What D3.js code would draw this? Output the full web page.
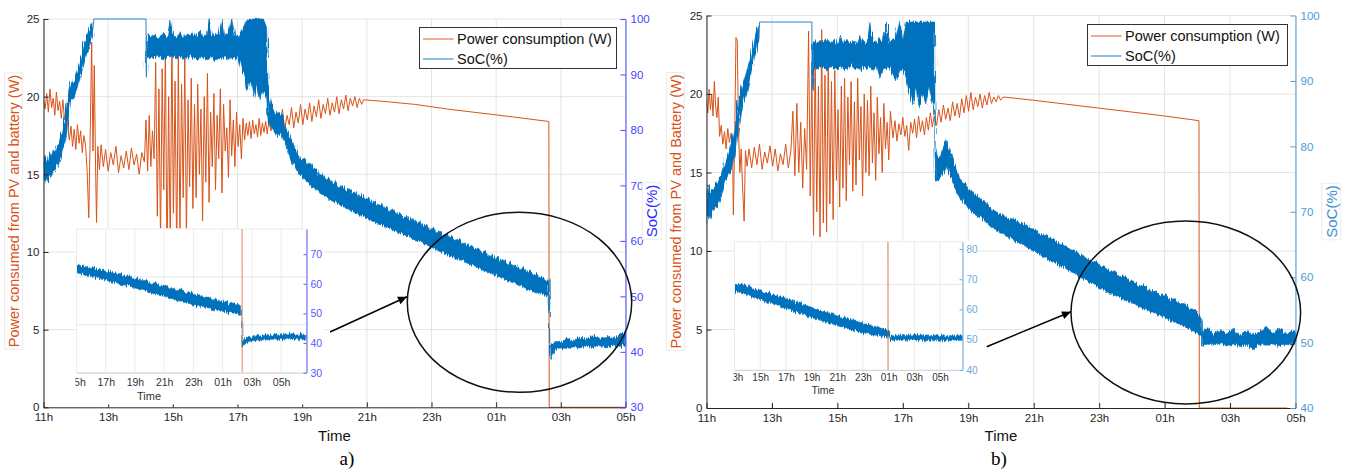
<!DOCTYPE html>
<html>
<head>
<meta charset="utf-8">
<script src="https://cdn.jsdelivr.net/npm/d3@7"></script>
<style>
    body { margin: 0; background: #fff; }
    svg  { font-family: "Liberation Sans", Arial, sans-serif; display: block; }
</style>
</head>
<body>
<svg id="fig" width="1349" height="470"></svg>
<script>

// ---- values (time = hours after 11h) ----

var timeTicks  = [0, 2, 4, 6, 8, 10, 12, 14, 16, 18];
var timeLabels = ["11h", "13h", "15h", "17h", "19h", "21h", "23h", "01h", "03h", "05h"];
var powerTicks = [0, 5, 10, 15, 20, 25];
var socTicksA  = [30, 40, 50, 60, 70, 80, 90, 100];
var socTicksB  = [40, 50, 60, 70, 80, 90, 100];
var insetSocTicksA = [30, 40, 50, 60, 70];
var insetSocTicksB = [40, 50, 60, 70, 80];
var insetGridA = [5, 10];
var insetGridB = [10];
var legendLabels = ["Power consumption (W)", "SoC(%)"];
var leftLabelA = "Power consumed from PV and battery (W)";
var leftLabelB = "Power consumed from PV and Battery (W)";
var rightLabel = "SoC(%)";

// [t, W]
var powerA = [
    [0.00,19.8],[0.05,19.2],[0.10,20.2],[0.15,19.0],[0.20,20.5],[0.25,19.3],[0.30,19.9],[0.35,18.8],
    [0.40,20.3],[0.45,19.1],[0.50,19.7],[0.55,18.6],[0.60,19.8],[0.65,18.5],[0.70,19.2],[0.75,18.0],
    [0.80,17.2],[0.85,18.1],[0.90,16.8],[0.95,17.9],[1.00,16.6],[1.05,18.2],[1.10,17.0],[1.15,17.8],
    [1.20,16.4],[1.25,17.5],[1.30,16.9],[1.35,15.2],[1.40,12.2],[1.44,17.0],[1.49,23.5],[1.53,16.5],
    [1.57,22.0],[1.61,15.5],[1.64,11.9],[1.68,16.8],[1.73,15.3],[1.78,16.9],[1.85,15.5],[1.92,16.6],
    [2.00,15.2],[2.08,16.4],[2.16,15.6],[2.24,16.8],[2.32,15.1],[2.40,16.2],[2.48,15.4],[2.56,16.5],
    [2.64,15.3],[2.72,16.7],[2.80,15.6],[2.88,16.3],[2.96,15.0],[3.04,16.4],[3.12,15.8],
    [3.17,18.5],[3.22,15.2],[3.27,18.8],[3.32,15.5],[3.37,17.8],[3.42,16.0],[3.47,22.2],[3.52,12.3],
    [3.57,20.5],[3.62,10.5],[3.67,21.8],[3.72,14.0],[3.77,23.3],[3.82,9.0],[3.87,20.0],[3.92,10.0],
    [3.97,23.6],[4.02,12.5],[4.07,21.0],[4.12,9.5],[4.17,22.8],[4.22,11.0],[4.27,20.8],[4.32,13.5],
    [4.37,22.5],[4.42,10.8],[4.47,19.8],[4.52,14.2],[4.57,21.2],[4.62,12.8],[4.67,19.5],[4.72,13.5],
    [4.77,20.8],[4.82,15.0],[4.87,19.2],[4.92,12.0],[4.97,20.0],[5.02,14.5],[5.07,21.5],[5.12,13.2],
    [5.17,19.0],[5.22,15.5],[5.27,20.2],[5.32,14.0],[5.37,18.8],[5.42,16.0],[5.47,20.5],[5.52,13.8],
    [5.57,19.5],[5.62,16.5],[5.67,18.0],[5.72,14.8],[5.77,19.8],[5.82,16.2],[5.87,18.5],[5.92,15.5],
    [5.97,19.0],[6.02,16.8],[6.07,18.2],[6.12,16.0],[6.17,18.6],[6.22,17.2],
    [6.27,18.3],[6.32,17.5],[6.37,18.4],[6.42,17.3],[6.47,18.5],[6.52,17.6],[6.57,18.2],[6.62,17.4],
    [6.67,18.6],[6.72,17.5],[6.77,18.3],[6.82,17.7],[6.87,18.4],[6.92,17.6],
    [6.97,18.4],[7.04,17.8],[7.11,18.9],[7.18,17.6],[7.25,18.7],[7.32,18.0],[7.39,19.2],[7.46,17.9],
    [7.53,18.8],[7.60,18.2],[7.67,19.3],[7.74,18.0],[7.81,19.0],[7.88,18.3],[7.95,19.5],[8.02,18.2],
    [8.09,19.2],[8.16,18.5],[8.23,19.6],[8.30,18.4],[8.37,19.4],[8.44,18.7],[8.51,19.8],[8.58,18.6],
    [8.65,19.5],[8.72,18.9],[8.79,19.9],[8.86,18.8],[8.93,19.6],[9.00,19.0],[9.07,20.0],[9.14,18.9],
    [9.21,19.8],[9.28,19.2],[9.35,20.1],[9.42,19.1],[9.49,19.9],[9.56,19.4],[9.63,20.0],[9.70,19.3],
    [9.77,19.9],[9.84,19.5],[9.90,19.8],
    [10.5,19.7],[11.5,19.5],[12.5,19.2],[13.5,18.95],[14.5,18.7],[15.63,18.4],[15.64,0],[18,0]
];

// [t, low, high] of the noisy SoC band
var socA = [
    [0.00,69.5,74.0],[0.06,71.2,75.4],[0.12,70.4,74.2],[0.18,71.8,75.9],[0.24,71.6,75.2],[0.30,72.4,76.4],
    [0.36,72.8,76.0],[0.42,73.4,77.2],[0.48,74.0,77.8],[0.54,75.2,79.0],[0.60,76.8,80.6],[0.66,77.6,82.4],
    [0.72,79.4,84.6],[0.78,82.6,87.4],[0.84,85.2,88.6],[0.90,85.6,88.4],[0.96,86.2,89.2],[1.02,87.0,90.4],
    [1.08,88.2,91.6],[1.14,89.6,93.0],[1.20,90.8,94.4],[1.26,92.2,95.6],[1.32,93.4,96.8],[1.38,94.2,97.6],
    [1.44,95.6,98.6],[1.50,96.8,99.4],[1.56,100,100],[3.17,100,100],
    [3.18,89.5,97.0],[3.22,93.0,97.5],[3.32,93.2,96.8],[3.42,92.8,97.2],[3.52,93.5,96.5],[3.62,93.0,97.0],
    [3.72,92.6,97.4],[3.82,93.3,96.6],[3.92,93.0,99.8],[4.02,93.4,96.8],[4.12,92.8,97.0],[4.22,93.2,97.6],
    [4.32,93.0,96.5],[4.42,92.7,97.3],[4.52,93.5,96.9],[4.62,92.9,97.5],[4.72,93.1,96.7],[4.82,92.6,98.0],
    [4.92,93.3,97.0],[5.02,92.8,96.8],[5.12,93.0,100],[5.22,93.4,97.2],[5.32,92.5,96.9],[5.42,93.1,97.4],
    [5.52,92.9,100],[5.62,93.2,96.8],[5.72,92.4,97.5],[5.82,93.0,100],[5.92,92.8,97.0],[6.02,93.2,96.6],
    [6.12,91.0,97.8],[6.22,90.0,99.0],[6.30,87.0,100],[6.40,89.0,100],[6.50,86.0,100],[6.60,88.5,100],
    [6.70,85.5,100],[6.80,87.0,100],[6.90,86.0,98.5],
    [6.95,81.5,87.0],[7.03,80.6,84.8],[7.11,79.8,84.0],[7.19,79.2,82.9],[7.27,79.0,83.2],[7.35,79.6,82.6],
    [7.43,78.0,81.6],[7.51,76.8,80.2],[7.59,75.6,79.1],[7.67,74.6,78.2],[7.75,73.8,77.3],[7.83,72.9,76.0],
    [7.91,72.0,75.4],[7.99,71.6,74.6],[8.07,71.0,74.9],[8.15,70.6,73.8],[8.25,70.1,74.0],[8.35,69.6,72.9],
    [8.45,69.2,73.0],[8.55,68.6,71.9],[8.65,68.2,72.0],[8.75,68.0,71.1],[8.85,67.5,71.4],[8.95,67.1,70.3],
    [9.05,67.0,70.8],[9.15,66.5,69.6],[9.25,66.2,70.0],[9.35,65.9,69.0],[9.45,65.6,69.4],[9.55,65.4,68.5],
    [9.65,65.0,68.9],[9.75,64.8,67.9],[9.85,64.5,68.4],[9.95,64.1,67.4],[10.05,63.9,67.9],[10.15,63.6,66.9],
    [10.25,63.4,67.2],[10.35,63.0,66.4],[10.45,62.9,66.6],[10.55,62.5,65.8],[10.65,62.4,66.2],[10.75,62.0,65.3],
    [10.85,61.9,65.6],[10.95,61.5,64.8],[11.05,61.4,65.1],[11.15,61.0,64.3],[11.25,60.9,64.6],[11.35,60.5,63.8],
    [11.45,60.4,64.1],[11.55,60.0,63.2],[11.65,59.9,63.5],[11.75,59.5,62.7],[11.85,59.4,63.0],[11.95,59.0,62.1],
    [12.05,58.7,62.4],[12.15,58.4,61.6],[12.25,58.1,61.9],[12.35,57.9,61.0],[12.45,57.6,61.3],[12.55,57.4,60.5],
    [12.65,57.1,60.8],[12.75,56.9,60.0],[12.85,56.6,60.3],[12.95,56.4,59.4],[13.05,56.1,59.8],[13.15,55.9,58.9],
    [13.25,55.6,59.2],[13.35,55.4,58.4],[13.45,55.1,58.7],[13.55,54.9,57.9],[13.65,54.6,58.2],[13.75,54.4,57.3],
    [13.85,54.1,57.7],[13.95,53.9,56.8],[14.05,53.6,57.2],[14.15,53.4,56.3],[14.25,53.1,56.7],[14.35,52.9,55.8],
    [14.45,52.6,56.2],[14.55,52.4,55.3],[14.65,52.1,55.7],[14.75,51.9,54.8],[14.85,51.6,55.2],[14.95,51.4,54.3],
    [15.05,51.2,54.6],[15.15,50.9,53.8],[15.25,50.7,54.1],[15.35,50.5,53.3],[15.45,50.3,53.6],[15.55,50.1,52.8],
    [15.64,50.0,53.0],[15.66,38.5,41.0],[15.72,39.4,41.4],[15.80,40.2,41.6],[15.90,40.6,41.9],[16.00,40.7,41.8],
    [16.20,40.6,42.4],[16.40,40.9,42.0],[16.60,40.7,42.7],[16.80,41.0,42.2],[17.00,40.8,42.9],[17.20,41.1,42.3],
    [17.40,40.7,42.8],[17.60,41.1,42.4],[17.80,40.9,43.2],[18.00,41.2,43.4]
];

var powerB = [
    [0.00,19.6],[0.04,18.8],[0.08,20.3],[0.12,19.0],[0.16,20.0],[0.20,18.6],[0.24,20.8],[0.28,19.2],
    [0.32,18.5],[0.36,19.8],[0.40,17.3],[0.45,18.0],[0.50,16.8],[0.55,17.6],[0.60,16.5],[0.65,17.8],
    [0.70,16.9],[0.75,17.5],[0.80,16.2],[0.82,12.3],[0.86,17.0],[0.90,23.6],[0.94,23.4],[0.98,17.5],
    [1.02,15.0],[1.06,16.5],[1.10,14.2],[1.15,11.9],[1.19,16.4],[1.24,15.4],
    [1.30,16.5],[1.38,15.3],[1.46,16.6],[1.54,15.5],[1.62,16.8],[1.70,15.2],[1.78,16.3],[1.86,15.6],
    [1.94,16.7],[2.02,15.4],[2.10,16.5],[2.18,15.1],[2.26,16.2],[2.34,15.5],[2.42,16.8],[2.50,15.3],
    [2.58,16.4],[2.64,18.9],[2.70,14.8],[2.76,19.4],[2.82,15.0],[2.88,18.2],[2.94,14.0],[3.00,17.8],
    [3.06,15.2],[3.12,24.0],[3.17,13.5],[3.22,21.5],[3.27,11.0],[3.32,22.8],[3.37,12.5],[3.42,20.5],
    [3.47,10.9],[3.52,24.1],[3.57,11.8],[3.62,21.2],[3.67,11.2],[3.72,22.5],[3.77,13.0],[3.82,20.8],
    [3.87,12.0],[3.92,21.5],[3.97,14.5],[4.02,19.0],[4.07,12.8],[4.12,20.5],[4.17,14.0],[4.22,21.0],
    [4.27,13.2],[4.32,19.8],[4.37,15.5],[4.42,20.8],[4.47,13.8],[4.52,19.5],[4.57,14.2],[4.62,21.0],
    [4.67,15.8],[4.72,19.2],[4.77,13.5],[4.82,20.0],[4.87,15.0],[4.92,19.6],[4.97,14.8],[5.02,20.5],
    [5.07,15.6],[5.12,18.8],[5.17,14.5],[5.22,19.8],[5.27,16.2],[5.32,18.5],[5.37,15.0],[5.42,19.4],
    [5.47,16.5],[5.52,18.2],[5.57,15.8],[5.62,18.9],
    [5.70,17.2],[5.76,18.3],[5.82,17.0],[5.88,18.1],[5.94,17.4],[6.00,18.5],[6.06,17.3],[6.12,18.0],
    [6.18,16.4],[6.24,18.2],[6.30,17.5],[6.36,18.4],[6.42,17.2],[6.48,18.6],[6.54,17.6],[6.60,18.3],
    [6.66,17.4],[6.72,18.5],[6.78,17.7],[6.84,18.8],[6.90,17.9],[6.96,18.6],
    [7.03,18.0],[7.10,19.0],[7.17,18.2],[7.24,19.3],[7.31,18.4],[7.38,19.1],[7.45,18.3],[7.52,19.5],
    [7.59,18.6],[7.66,19.4],[7.73,18.5],[7.80,19.7],[7.87,18.8],[7.94,19.9],[8.01,18.9],[8.08,20.1],
    [8.15,19.0],[8.22,19.8],[8.29,19.2],[8.36,20.0],[8.43,19.1],[8.50,19.9],[8.57,19.3],[8.64,20.1],
    [8.71,19.4],[8.78,19.8],[8.85,19.5],[8.92,19.9],[8.99,19.6],[9.06,19.8],
    [9.12,19.8],[10,19.6],[11,19.35],[12,19.1],[13,18.85],[14,18.6],[15.05,18.3],[15.06,0],[17.75,0]
];

var socB = [
    [0.00,68.0,73.0],[0.06,69.6,74.2],[0.12,68.8,72.6],[0.18,69.8,73.4],[0.26,70.6,73.8],[0.32,70.8,74.6],
    [0.40,71.6,75.2],[0.46,72.6,76.0],[0.52,73.4,76.8],[0.57,74.4,77.6],[0.62,75.0,78.4],[0.67,75.6,79.2],
    [0.72,76.0,80.2],[0.77,76.6,81.0],[0.82,77.4,82.0],[0.87,78.4,83.0],[0.92,80.0,85.0],[0.97,82.2,87.0],
    [1.02,84.6,88.2],[1.08,86.0,89.2],[1.14,87.0,90.0],[1.20,88.0,91.0],[1.26,89.0,92.0],[1.33,90.4,93.2],
    [1.40,92.0,95.0],[1.47,93.6,96.8],[1.54,94.8,98.0],[1.60,96.4,98.8],[1.62,99,99],[3.22,99,99],
    [3.23,88.6,95.5],[3.30,92.0,96.0],[3.40,91.8,95.6],[3.50,92.3,96.2],[3.60,92.0,95.8],[3.70,91.6,96.5],
    [3.80,92.2,95.9],[3.90,92.0,96.3],[4.00,91.7,95.5],[4.10,92.3,97.0],[4.20,91.5,95.8],[4.30,92.0,96.4],
    [4.40,92.4,95.7],[4.50,91.8,96.2],[4.60,92.0,95.6],[4.70,91.5,96.8],[4.80,92.2,96.0],[4.90,91.9,95.7],
    [5.00,92.1,99.0],[5.10,91.6,96.2],[5.20,92.3,95.8],[5.30,90.5,96.5],[5.40,92.0,96.0],[5.50,91.8,99.0],
    [5.60,92.2,95.9],[5.70,91.0,96.4],[5.80,90.0,96.8],[5.90,91.5,99.0],[6.00,91.8,96.2],[6.10,90.5,99.0],
    [6.22,88.0,99.0],[6.30,86.5,99.0],[6.40,89.0,99.0],[6.50,86.0,99.0],[6.60,88.0,99.0],[6.70,86.5,99.0],
    [6.80,89.0,99.0],[6.90,87.0,99.0],[6.97,86.0,99.0],
    [6.99,75.0,80.0],[7.05,74.6,78.6],[7.13,75.0,78.2],[7.20,75.6,79.4],[7.28,76.4,80.4],[7.35,77.0,81.0],
    [7.42,76.0,79.6],[7.50,74.8,78.2],[7.58,73.8,77.0],[7.66,73.0,76.2],[7.75,72.0,75.0],[7.83,71.6,74.6],
    [7.91,71.0,74.2],[8.00,70.4,73.4],[8.10,70.0,73.2],[8.20,69.6,72.6],[8.30,69.4,72.4],[8.40,69.0,71.8],
    [8.50,68.6,71.6],[8.60,68.1,70.9],[8.70,67.6,70.8],[8.80,67.3,70.1],[8.90,66.9,69.9],[9.00,66.7,69.5],
    [9.10,66.4,69.5],[9.25,66.1,68.8],[9.40,65.6,69.0],[9.55,65.2,68.2],[9.70,64.9,68.3],[9.89,64.2,67.5],
    [10.05,63.9,67.3],[10.20,63.4,66.5],[10.35,63.1,66.6],[10.50,62.6,65.7],[10.65,62.3,65.8],[10.80,61.7,65.0],
    [10.95,61.4,64.9],[11.10,60.9,64.2],[11.25,60.6,64.1],[11.40,60.0,63.4],[11.55,59.7,63.3],[11.70,59.2,62.6],
    [11.85,58.9,62.5],[12.02,58.3,61.8],[12.17,57.9,61.5],[12.32,57.6,60.8],[12.47,57.2,60.9],[12.62,56.9,60.1],
    [12.77,56.5,60.2],[12.92,56.2,59.4],[13.07,55.9,59.4],[13.25,55.4,58.6],[13.40,55.1,58.7],[13.55,54.8,57.9],
    [13.70,54.4,58.0],[13.85,54.1,57.2],[14.00,53.8,57.3],[14.15,53.4,56.6],[14.30,53.1,56.7],[14.47,52.8,55.9],
    [14.62,52.4,56.0],[14.77,52.0,55.1],[14.92,51.6,55.2],[15.05,51.2,54.3],[15.12,50.9,53.6],
    [15.14,49.3,51.5],[15.30,49.8,52.3],[15.50,49.6,51.2],[15.70,49.9,52.0],[15.90,49.5,51.3],[16.10,49.8,52.2],
    [16.30,49.4,51.0],[16.50,49.7,51.8],[16.70,48.9,51.2],[16.90,49.8,51.5],[17.10,49.6,52.5],[17.30,49.8,51.4],
    [17.50,49.5,52.2],[17.70,49.7,51.3],[17.90,49.6,51.8],[18.00,49.8,51.5]
];

// zoomed insets: their own time axis, same hour numbering
var insetSocA = [
    [4.0,63.3,66.4],[4.3,63.6,66.0],[4.6,62.8,65.9],[4.9,62.9,65.2],[5.2,62.2,65.6],[5.5,62.0,64.8],
    [5.8,61.4,64.9],[6.1,61.3,64.1],[6.4,60.6,64.3],[6.7,60.4,63.4],[7.0,59.8,63.5],[7.3,59.6,62.6],
    [7.6,59.0,62.7],[7.9,58.7,61.8],[8.2,58.3,62.0],[8.5,57.8,61.0],[8.8,57.5,61.2],[9.1,56.9,60.2],
    [9.4,56.6,60.4],[9.7,56.0,59.4],[10.0,55.8,59.6],[10.3,55.2,58.6],[10.6,54.9,58.8],[10.9,54.3,57.8],
    [11.2,54.1,57.9],[11.5,53.5,57.0],[11.8,53.3,57.2],[12.1,52.7,56.2],[12.4,52.5,56.3],[12.7,52.0,55.4],
    [13.0,51.8,55.6],[13.3,51.3,54.6],[13.6,51.2,54.9],[13.9,50.7,53.9],[14.2,50.6,54.2],[14.5,50.2,53.3],
    [14.8,50.0,53.6],[15.1,49.7,52.8],[15.3,49.8,52.6],[15.32,38.8,40.6],[15.45,39.6,41.4],[15.6,40.2,41.8],
    [15.8,40.5,42.3],[16.1,40.8,42.0],[16.4,40.9,42.9],[16.7,41.1,42.4],[17.0,41.0,43.0],[17.3,41.3,42.6],
    [17.6,41.1,43.1],[17.9,41.3,42.7],[18.2,41.0,43.0],[18.5,41.4,42.8],[18.8,41.2,43.2],[19.1,41.3,42.7],
    [19.4,41.1,43.1],[19.74,41.4,42.9]
];
var insetPowerA = [[4.0,18.9],[15.33,18.4],[15.34,0]];

var insetSocB = [
    [2.0,66.0,68.8],[2.3,65.6,68.2],[2.6,65.3,68.4],[2.9,64.8,67.6],[3.2,64.6,67.7],[3.5,63.9,66.8],
    [3.8,63.5,66.4],[4.1,63.2,66.5],[4.4,62.6,65.6],[4.7,62.3,65.7],[5.0,61.8,64.8],[5.3,61.4,64.9],
    [5.6,61.0,64.1],[5.9,60.5,64.0],[6.2,60.0,63.2],[6.5,59.6,63.3],[6.8,59.1,62.4],[7.1,58.7,62.5],
    [7.4,58.2,61.5],[7.7,57.7,61.2],[8.0,57.3,60.6],[8.3,56.9,60.5],[8.6,56.5,59.8],[8.9,56.0,59.6],
    [9.2,55.7,58.9],[9.5,55.3,58.8],[9.8,55.0,58.2],[10.1,54.5,57.9],[10.4,54.2,57.3],[10.7,53.8,57.2],
    [11.0,53.4,56.6],[11.3,53.1,56.5],[11.6,52.8,55.9],[11.9,52.4,55.7],[12.2,52.2,55.2],[12.5,51.9,55.1],
    [12.8,51.6,54.4],[13.1,51.4,54.5],[13.4,51.2,53.8],[13.7,51.0,53.6],[14.0,50.9,52.9],[14.05,49.7,51.0],
    [14.3,49.8,51.4],[14.6,49.9,51.1],[14.9,49.7,51.6],[15.2,49.9,51.2],[15.5,49.8,51.8],[15.8,49.9,51.2],
    [16.1,49.6,51.5],[16.4,49.9,51.9],[16.7,49.8,51.3],[17.0,49.7,51.7],[17.3,49.9,51.2],[17.6,49.6,51.5],
    [17.9,49.9,51.3],[18.2,49.7,51.6],[18.5,49.9,51.1],[18.8,49.7,51.4],[19.1,49.9,51.2],[19.4,49.7,51.5],
    [19.75,49.8,51.2]
];
var insetPowerB = [[2.0,19.5],[13.94,18.3],[13.95,0]];


var ORANGE = "#D95319",
    BLUE   = "#0072BD";

var svg  = d3.select("#fig"),
    defs = svg.append("defs");

defs.append("marker")
    .attr("id", "arrowHead")
    .attr("viewBox", "0 0 10 10")
    .attr("refX", 10).attr("refY", 5)
    .attr("markerWidth", 11).attr("markerHeight", 9)
    .attr("markerUnits", "userSpaceOnUse")
    .attr("orient", "auto")
    .append("path")
    .attr("d", "M0,0.5 L10,5 L0,9.5 Z")
    .attr("fill", "#000");

// measurement noise look: roughens the edges of the SoC band (rendering only)
var fuzz = defs.append("filter")
    .attr("id", "fuzz")
    .attr("x", "-2%").attr("y", "-8%")
    .attr("width", "104%").attr("height", "116%");

fuzz.append("feTurbulence")
    .attr("type", "fractalNoise")
    .attr("baseFrequency", "0.85 0.04")
    .attr("numOctaves", 2)
    .attr("seed", 7)
    .attr("result", "noise");

fuzz.append("feDisplacementMap")
    .attr("in", "SourceGraphic")
    .attr("in2", "noise")
    .attr("scale", 6)
    .attr("xChannelSelector", "B")
    .attr("yChannelSelector", "G");


function styleAxis (g, color, size) {
    g.select(".domain").attr("stroke", color);
    g.selectAll(".tick line").attr("stroke", color);
    g.selectAll(".tick text")
        .attr("fill", color)
        .attr("font-size", size)
        .attr("font-family", "Liberation Sans, Arial, sans-serif");
    return g;
}

function clipRect (id, x, y, w, h) {
    defs.append("clipPath").attr("id", id)
        .append("rect").attr("x", x).attr("y", y).attr("width", w).attr("height", h);
    return "url(#" + id + ")";
}

function boxedLabel (cx, cy, text, size, color) {

    var g = svg.append("g").attr("transform", "translate(" + cx + "," + cy + ") rotate(-90)"),
        t = g.append("text")
            .attr("text-anchor", "middle")
            .attr("dy", "0.35em")
            .attr("font-size", size)
            .attr("fill", color)
            .text(text),
        b = t.node().getBBox();

    g.insert("rect", "text")
        .attr("x", b.x - 2).attr("y", b.y - 1)
        .attr("width", b.width + 4).attr("height", b.height + 2)
        .attr("fill", "#fff")
        .attr("stroke", "#ececec");
}

// noisy stretches go through the filter, flat (saturated) stretches stay crisp
function drawBand (g, rows, x, y, clip, color, width) {

    var noisy = function (d) { return d[1] < d[2]; },
        flat  = function (d) { return d && d[1] === d[2]; },
        edge  = rows.filter(function (d, i) {
            return flat(d) || flat(rows[i - 1]) || flat(rows[i + 1]);
        });

    g.append("g")
        .attr("clip-path", clip)
        .append("path")
        .datum(rows)
        .attr("filter", "url(#fuzz)")
        .attr("d", d3.area().defined(noisy)
            .x(function (d) { return x(d[0]); })
            .y0(function (d) { return y(d[1]); })
            .y1(function (d) { return y(d[2]); }))
        .attr("fill", color)
        .attr("stroke", color)
        .attr("stroke-width", width)
        .attr("stroke-linejoin", "round");

    if (!edge.length) return;

    g.append("path")
        .datum(edge)
        .attr("clip-path", clip)
        .attr("d", d3.line()
            .x(function (d) { return x(d[0]); })
            .y(function (d) { return y(d[1]); }))
        .attr("fill", "none")
        .attr("stroke", "#2f86c8")
        .attr("stroke-width", 1);
}


function drawPanel (p) {

    var g  = svg.append("g"),
        x  = d3.scaleLinear().domain([0, 18]).range([p.left, p.right]),
        yL = d3.scaleLinear().domain([0, 25]).range([p.bottom, p.top]),
        yR = d3.scaleLinear().domain(p.socDomain).range([p.bottom, p.top]),
        clip = clipRect("clip" + p.id, p.left, p.top - 1.5, p.right - p.left + 1, p.bottom - p.top + 3);

    // grid
    g.append("g").selectAll("line")
        .data(timeTicks).enter().append("line")
        .attr("x1", x).attr("x2", x)
        .attr("y1", p.top).attr("y2", p.bottom)
        .attr("stroke", "#e4e4e4");

    g.append("g").selectAll("line")
        .data(powerTicks.slice(1)).enter().append("line")
        .attr("x1", p.left).attr("x2", p.right)
        .attr("y1", yL).attr("y2", yL)
        .attr("stroke", "#e4e4e4");

    // series
    g.append("path")
        .datum(p.power)
        .attr("clip-path", clip)
        .attr("d", d3.line().x(function (d) { return x(d[0]); }).y(function (d) { return yL(d[1]); }))
        .attr("fill", "none")
        .attr("stroke", ORANGE)
        .attr("stroke-width", 1)
        .attr("stroke-linejoin", "round");

    drawBand(g, p.soc, x, yR, clip, BLUE, 0.6);

    // axes
    styleAxis(
        g.append("g")
            .attr("transform", "translate(0," + p.bottom + ")")
            .call(d3.axisBottom(x).tickValues(timeTicks)
                .tickFormat(function (d, i) { return timeLabels[i]; })
                .tickSize(-5).tickSizeOuter(0).tickPadding(6)),
        "#262626", 11.5);

    styleAxis(
        g.append("g")
            .attr("transform", "translate(" + p.left + ",0)")
            .call(d3.axisLeft(yL).tickValues(powerTicks).tickSize(-5).tickSizeOuter(0).tickPadding(4)),
        "#262626", 11.5);

    styleAxis(
        g.append("g")
            .attr("transform", "translate(" + p.right + ",0)")
            .call(d3.axisRight(yR).tickValues(p.socTicks).tickSize(-5).tickSizeOuter(0).tickPadding(5)),
        p.axisColor, 11.5);

    drawInset(p.inset);

    // legend
    var lg = svg.append("g").attr("transform", "translate(" + p.legend[0] + "," + p.legend[1] + ")");

    lg.append("rect")
        .attr("width", p.legend[2]).attr("height", p.legend[3])
        .attr("fill", "#fff").attr("stroke", "#333");

    lg.selectAll("g.item")
        .data(legendLabels).enter()
        .append("g")
        .attr("class", "item")
        .attr("transform", function (d, i) { return "translate(0," + (11.5 + i * 20) + ")"; })
        .each(function (d, i) {
            var it = d3.select(this);
            it.append("line")
                .attr("x1", 3.5).attr("x2", 34)
                .attr("stroke", i ? "#3f94d2" : "#e2764a")
                .attr("stroke-width", 1.2);
            it.append("text")
                .attr("x", 37.5).attr("dy", "0.36em")
                .attr("font-size", 14.5)
                .attr("fill", "#111")
                .text(d);
        });

    // titles
    boxedLabel(p.leftLabelX, p.labelY, p.leftLabel, 14.5, ORANGE);
    boxedLabel(p.rightLabelX, p.labelY, rightLabel, 15, p.labelColor);

    svg.append("text")
        .attr("x", p.timeX).attr("y", 441)
        .attr("text-anchor", "middle")
        .attr("font-size", 15)
        .attr("fill", "#111")
        .text("Time");

    svg.append("text")
        .attr("x", p.tagX).attr("y", 465)
        .attr("text-anchor", "middle")
        .attr("font-family", "Liberation Serif, Times New Roman, serif")
        .attr("font-size", 19)
        .attr("fill", "#000")
        .text(p.tag);

    // highlight
    svg.append("ellipse")
        .attr("cx", p.ellipse[0]).attr("cy", p.ellipse[1])
        .attr("rx", p.ellipse[2]).attr("ry", p.ellipse[3])
        .attr("fill", "none").attr("stroke", "#111").attr("stroke-width", 1.5);

    svg.append("line")
        .attr("x1", p.arrow[0]).attr("y1", p.arrow[1])
        .attr("x2", p.arrow[2]).attr("y2", p.arrow[3])
        .attr("stroke", "#000").attr("stroke-width", 1.5)
        .attr("marker-end", "url(#arrowHead)");
}


function drawInset (q) {

    var g  = svg.append("g"),
        x  = d3.scaleLinear().domain(q.timeDomain).range([q.left, q.right]),
        yL = d3.scaleLinear().domain([0, 15]).range([q.bottom, q.top]),
        yR = d3.scaleLinear().domain(q.socDomain).range([q.bottom, q.top]),
        clip = clipRect("clipIn" + q.id, q.left, q.top, q.right - q.left, q.bottom - q.top),
        labelClip = clipRect("clipLab" + q.id, q.left - 1, q.top, 400, 200);

    g.append("rect")
        .attr("x", q.bg[0]).attr("y", q.bg[1])
        .attr("width", q.bg[2]).attr("height", q.bg[3])
        .attr("fill", "#fff");

    g.append("rect")
        .attr("x", q.left).attr("y", q.top)
        .attr("width", q.right - q.left).attr("height", q.bottom - q.top)
        .attr("fill", "#fff")
        .attr("stroke", "#ececec");

    g.append("g").selectAll("line")
        .data(q.ticks).enter().append("line")
        .attr("x1", x).attr("x2", x)
        .attr("y1", q.top).attr("y2", q.bottom)
        .attr("stroke", "#ececec");

    g.append("g").selectAll("line")
        .data(q.grid).enter().append("line")
        .attr("x1", q.left).attr("x2", q.right)
        .attr("y1", yL).attr("y2", yL)
        .attr("stroke", "#e6e6e6");

    drawBand(g, q.soc, x, yR, clip, BLUE, 0.5);

    g.append("path")
        .datum(q.power)
        .attr("clip-path", clip)
        .attr("d", d3.line().x(function (d) { return x(d[0]); }).y(function (d) { return yL(d[1]); }))
        .attr("fill", "none")
        .attr("stroke", ORANGE)
        .attr("stroke-opacity", 0.6)
        .attr("stroke-width", 1.2);

    var bx = g.append("g")
        .attr("clip-path", labelClip)
        .append("g")
        .attr("transform", "translate(0," + q.bottom + ")")
        .call(d3.axisBottom(x).tickValues(q.ticks)
            .tickFormat(function (d, i) { return q.labels[i]; })
            .tickSize(0).tickSizeOuter(0).tickPadding(q.pad));

    styleAxis(bx, "#333", q.font);
    bx.select(".domain").attr("stroke", "#d6d6d6");

    styleAxis(
        g.append("g")
            .attr("transform", "translate(" + q.right + ",0)")
            .call(d3.axisRight(yR).tickValues(q.socTicks).tickSize(-3).tickSizeOuter(0).tickPadding(4)),
        q.axisColor, q.font);

    g.append("text")
        .attr("x", q.timeX).attr("y", q.timeY)
        .attr("text-anchor", "middle")
        .attr("font-size", q.font + 0.5)
        .attr("fill", "#333")
        .text("Time");
}


drawPanel({
    id: "a",
    left: 43.5, right: 625.5, top: 19, bottom: 407.3,
    socDomain: [30, 100], socTicks: socTicksA,
    axisColor: "#4646ff", labelColor: "#2a2aff",
    power: powerA, soc: socA,
    leftLabel: leftLabelA, leftLabelX: 13.5, rightLabelX: 652, labelY: 211,
    legend: [419.5, 27.5, 197, 41],
    timeX: 334.5, tag: "a)", tagX: 347,
    ellipse: [519.5, 302.3, 112.2, 90],
    arrow: [330, 332, 407, 296.7],
    inset: {
        id: "a",
        left: 76.5, right: 306.5, top: 229, bottom: 372.7,
        bg: [76, 228.5, 248, 176],
        timeDomain: [4, 19.74],
        ticks: timeTicks.slice(2), labels: timeLabels.slice(2),
        socDomain: [30, 78.5], socTicks: insetSocTicksA, grid: insetGridA,
        soc: insetSocA, power: insetPowerA,
        axisColor: "#5a5aff", font: 10.5, pad: 5.5,
        timeX: 149, timeY: 400
    }
});

drawPanel({
    id: "b",
    left: 706.5, right: 1295.5, top: 15.5, bottom: 408,
    socDomain: [40, 100], socTicks: socTicksB,
    axisColor: "#4d9bd6", labelColor: "#3b8fd0",
    power: powerB, soc: socB,
    leftLabel: leftLabelB, leftLabelX: 675.5, rightLabelX: 1331.5, labelY: 211.5,
    legend: [1087.5, 24.5, 200, 41],
    timeX: 1001, tag: "b)", tagX: 999,
    ellipse: [1185.8, 312.5, 114.8, 91.5],
    arrow: [986.7, 346.7, 1071, 311.7],
    inset: {
        id: "b",
        left: 734.5, right: 962.5, top: 241.7, bottom: 370,
        bg: [734, 241, 244, 160],
        timeDomain: [2, 19.75],
        ticks: timeTicks.slice(1), labels: timeLabels.slice(1),
        socDomain: [40, 82.4], socTicks: insetSocTicksB, grid: insetGridB,
        soc: insetSocB, power: insetPowerB,
        axisColor: "#6aa8dc", font: 10, pad: 3.5,
        timeX: 823, timeY: 394
    }
});

</script>
</body>
</html>
